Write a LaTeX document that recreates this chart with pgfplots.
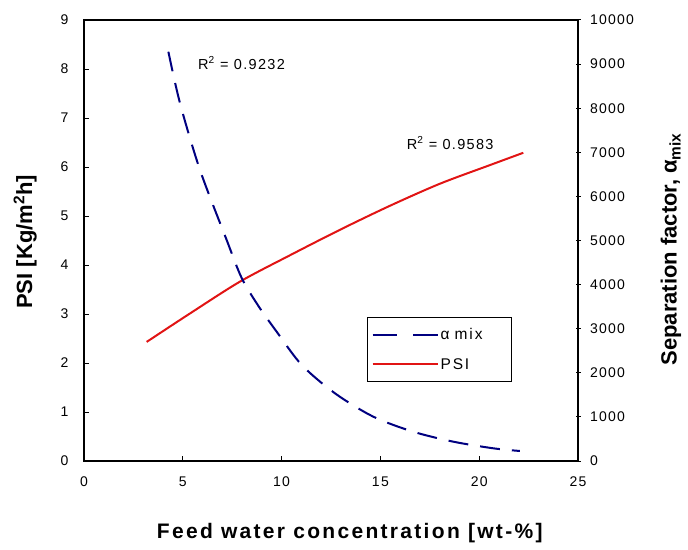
\documentclass[border=0pt]{standalone}
\usepackage{pgfplots}
\pgfplotsset{compat=1.18}
\usepackage{fontspec}
\setmainfont{Liberation Sans}
\newfontfamily\spacedfont[LetterSpace=9]{Liberation Sans}
\newfontfamily\legfont[LetterSpace=12]{Liberation Sans}
\newfontfamily\xlabfont[LetterSpace=11]{Liberation Sans}
\definecolor{navyline}{RGB}{0,0,128}
\definecolor{psired}{RGB}{225,20,20}
\pgfplotstableread{
x alpha
4.27 9281
4.86 8111
5.87 6599
7.22 5011
7.98 4150
8.82 3520
9.75 2932
11.02 2177
12.70 1535
14.64 1005
16.66 664
18.69 438
20.71 288
22.06 227
}\alphadata
\pgfplotstableread{
x psi
3.17 2.43
5.36 3.01
7.89 3.66
10.43 4.20
12.96 4.72
15.49 5.21
18.02 5.66
20.55 6.04
22.23 6.29
}\psidata
\begin{document}
\begin{tikzpicture}
\pgfplotsset{
  common/.style={
    scale only axis, width=494pt, height=441pt,
    xmin=0, xmax=25,
    tick label style={font=\fontsize{14}{16}\selectfont\spacedfont},
    /pgf/number format/assume math mode=true,
    /pgf/number format/1000 sep={},
    axis line style={line width=1.3pt},
    major tick length=5pt,
    every tick/.style={line width=1pt, black},
    scaled ticks=false,
  }
}
\begin{axis}[common, name=ax1,
  ymin=0, ymax=9,
  xtick={0,5,...,25}, ytick={0,1,...,9},
  xtick pos=bottom, ytick pos=left,
  tick align=inside,
  xticklabel style={yshift=-12pt},
  yticklabel style={xshift=-12pt},
  xlabel={\bfseries\fontsize{21}{24}\selectfont\xlabfont\bfseries Feed water concentration [wt-\%]},
  xlabel style={at={(axis description cs:0.538,0)}, anchor=center, yshift=-72pt},
  ylabel={\bfseries\fontsize{22}{24}\selectfont PSI [Kg/m\textsuperscript{2}h]},
  ylabel style={at={(axis description cs:-0.119,0.497)}, anchor=center, rotate=0},
]
\addplot[psired, line width=2pt, smooth] table[x=x, y=psi] {\psidata};
\node[anchor=west, inner sep=0pt, font=\fontsize{14.5}{16}\selectfont\spacedfont] at (axis cs:5.77,8.12) {R\textsuperscript{2} = 0.9232};
\node[anchor=west, inner sep=0pt, font=\fontsize{14.5}{16}\selectfont\spacedfont] at (axis cs:16.33,6.49) {R\textsuperscript{2} = 0.9583};
\end{axis}
\begin{axis}[common, name=ax2,
  ymin=0, ymax=10000,
  axis y line*=right, axis x line=none,
  ytick={0,1000,...,10000},
  tick align=center,
  yticklabel style={xshift=6pt},
  ylabel={\bfseries\fontsize{22}{24}\selectfont Separation factor, α\textsubscript{mix}},
  ylabel style={at={(axis description cs:1.188,0.48)}, anchor=center, rotate=0},
  legend style={at={(0.573,0.3265)}, anchor=north west, draw=black, line width=1pt,
    font=\fontsize{15.5}{17}\selectfont\legfont, inner xsep=4pt, inner ysep=9pt,
    row sep=13pt, /tikz/every even column/.append style={text width=65pt}},
  legend cell align=left,
  legend image code/.code={\draw[#1] (0pt,0pt) -- (65pt,0pt);},
]
\addplot[navyline, line width=2pt, smooth, dash pattern=on 20pt off 12pt, forget plot] table[x=x, y=alpha] {\alphadata};
\addlegendimage{navyline, line width=2pt, dash pattern=on 24.5pt off 16pt}
\addlegendentry{α mix}
\addlegendimage{psired, line width=2pt}
\addlegendentry{PSI}
\end{axis}
\pgfresetboundingbox
\path (ax1.south west) ++(-84pt,-88pt) rectangle ++(688pt,549pt);
\end{tikzpicture}
\end{document}
